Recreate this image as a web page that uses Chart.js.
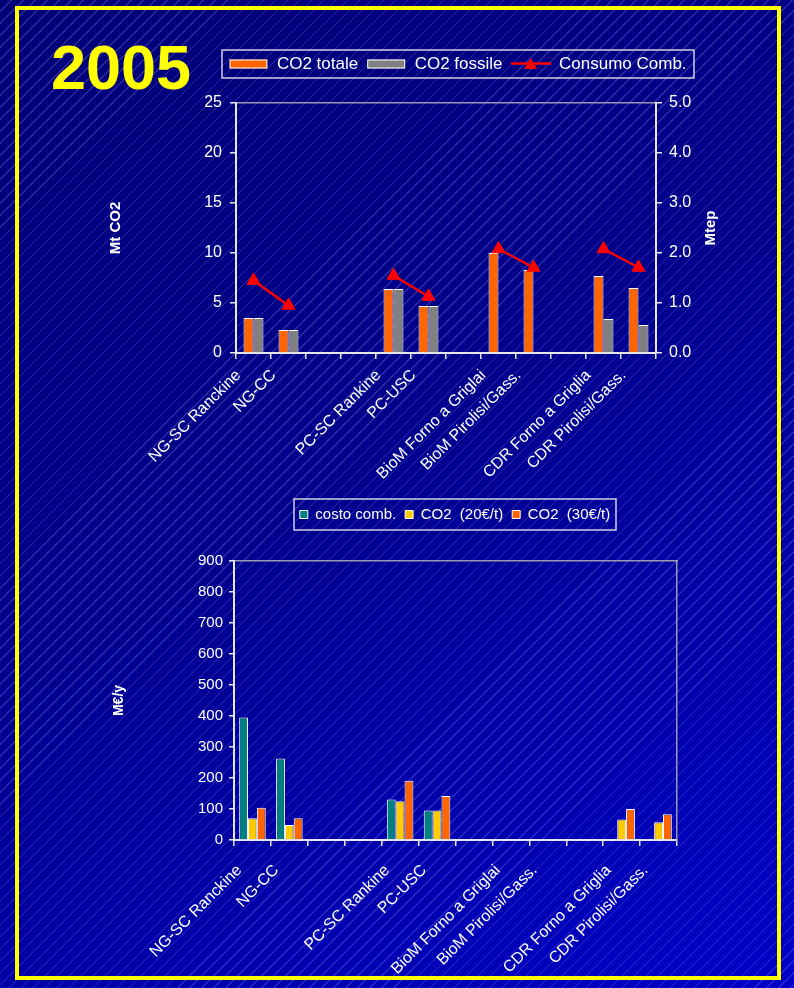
<!DOCTYPE html>
<html>
<head>
<meta charset="utf-8">
<script src="https://cdn.jsdelivr.net/npm/chart.js@4.4.0/dist/chart.umd.min.js"></script>
<style>
  html, body { margin: 0; padding: 0; width: 794px; height: 988px; overflow: hidden; }
  body {
    position: relative;
    background:
      repeating-linear-gradient(135deg, rgba(255,255,255,0) 0px, rgba(255,255,255,0) 7.5px, rgba(190,190,255,0.22) 7.5px, rgba(190,190,255,0.22) 8.5px),
      linear-gradient(150deg, #000078 0%, #00008c 45%, #0000c8 100%);
    font-family: Arial, "Liberation Sans", sans-serif;
  }
  #frame { position: absolute; left: 15px; top: 6px; width: 766px; height: 974px; border: 4px solid #ffff00; box-sizing: border-box; }
  #year { position: absolute; left: 51px; top: 36px; font: bold 63px/63px Arial, "Liberation Sans", sans-serif; color: #ffff00; }
  #top { position: absolute; left: 100px; top: 0; }
  #bottom { position: absolute; left: 95px; top: 480px; }
</style>
</head>
<body>
<div id="frame"></div>
<div id="year">2005</div>
<canvas id="top" width="715" height="490"></canvas>
<canvas id="bottom" width="720" height="508"></canvas>
<script>
// plants (blank slots are the gaps between groups)
const categories = ['NG-SC Ranckine', 'NG-CC', '', '', 'PC-SC Rankine', 'PC-USC', '',
  'BioM Forno a Griglai', 'BioM Pirolisi/Gass.', '', 'CDR Forno a Griglia', 'CDR Pirolisi/Gass.'];

// top chart: Mt CO2 (left) and Mtep (right)
const co2Totale  = [3.5, 2.3, null, null, 6.4, 4.7, null, 10.0, 8.3, null, 7.7, 6.5];
const co2Fossile = [3.5, 2.3, null, null, 6.4, 4.7, null, 0, 0, null, 3.4, 2.8];
const consumoComb = [1.45, 0.95, null, null, 1.55, 1.13, null, 2.08, 1.71, null, 2.08, 1.71];

// bottom chart: M€/y
const costoComb = [395, 263, null, null, 131, 95, null, 0, 0, null, 0, 0];
const co2At20   = [70, 48, null, null, 125, 95, null, 0, 0, null, 66, 57];
const co2At30   = [104, 70, null, null, 191, 142, null, 0, 0, null, 100, 83];

const FONT = 'Arial, "Liberation Sans", sans-serif';
Chart.defaults.font.family = FONT;
Chart.defaults.color = '#ffffff';

const AXIS = '#e6e6ee';
const FRAME = '#9a9ab4';

function legendIcon(kind, color) {
  const c = document.createElement('canvas');
  c.width = 40; c.height = 16;
  const g = c.getContext('2d');
  if (kind === 'bar') {
    g.fillStyle = color;
    g.fillRect(1, 3.5, 38, 9);
    g.strokeStyle = '#ffffff';
    g.lineWidth = 1;
    g.strokeRect(1.5, 4, 37, 8);
  } else {
    g.strokeStyle = color;
    g.lineWidth = 2.5;
    g.beginPath(); g.moveTo(0, 7.5); g.lineTo(40, 7.5); g.stroke();
    g.fillStyle = color;
    g.beginPath(); g.moveTo(20, 2); g.lineTo(26.5, 13); g.lineTo(13.5, 13); g.closePath(); g.fill();
  }
  return c;
}

// box round the legend + rotated right axis title
const decor = {
  id: 'decor',
  afterDraw(chart, args, opts) {
    const ctx = chart.ctx;
    const boxes = chart.legend && chart.legend.legendHitBoxes;
    if (boxes && boxes.length) {
      const l = Math.min(...boxes.map(b => b.left));
      const r = Math.max(...boxes.map(b => b.left + b.width));
      const cy = boxes[0].top + boxes[0].height / 2;
      ctx.save();
      ctx.strokeStyle = '#d0d0e0';
      ctx.lineWidth = 1.5;
      ctx.strokeRect(Math.round(l - opts.padL), Math.round(cy - opts.halfH),
        Math.round(r - l + opts.padL + opts.padR), opts.halfH * 2);
      ctx.restore();
    }
    if (opts.rightTitle) {
      const s = chart.scales.y1;
      ctx.save();
      ctx.translate(s.left + opts.rightTitleX, (s.top + s.bottom) / 2);
      ctx.rotate(-Math.PI / 2);
      ctx.font = 'bold 15px ' + FONT;
      ctx.fillStyle = '#ffffff';
      ctx.textAlign = 'center';
      ctx.textBaseline = 'middle';
      ctx.fillText(opts.rightTitle, 0, 0);
      ctx.restore();
    }
  }
};

const topIcons = [legendIcon('bar', '#ff6600'), legendIcon('bar', '#808080'), legendIcon('line', '#ff0000')];

new Chart(document.getElementById('top'), {
  type: 'bar',
  data: {
    labels: categories,
    datasets: [
      { label: 'CO2 totale', data: co2Totale, backgroundColor: '#ff6600', borderColor: '#ffffff', borderWidth: 1, yAxisID: 'y' },
      { label: 'CO2 fossile', data: co2Fossile, backgroundColor: '#808080', borderColor: '#ffffff', borderWidth: 1, yAxisID: 'y' },
      { type: 'line', label: 'Consumo Comb.', data: consumoComb, yAxisID: 'y1', order: -1,
        borderColor: '#ff0000', borderWidth: 2.5, spanGaps: false,
        pointStyle: 'triangle', pointRadius: 7.5, pointBackgroundColor: '#ff0000', pointBorderColor: '#ff0000', pointBorderWidth: 1 }
    ]
  },
  options: {
    responsive: false,
    animation: false,
    events: [],
    layout: { padding: { top: 47.5, left: 0, right: 0, bottom: 0 } },
    datasets: { bar: { barPercentage: 1, categoryPercentage: 0.57 } },
    plugins: {
      tooltip: { enabled: false },
      legend: {
        position: 'top',
        labels: {
          color: '#ffffff', font: { size: 17 }, padding: 8,
          usePointStyle: true, pointStyleWidth: 40,
          generateLabels(chart) {
            const items = Chart.defaults.plugins.legend.labels.generateLabels(chart);
            items.sort((a, b) => a.datasetIndex - b.datasetIndex);
            items.forEach(it => { it.pointStyle = topIcons[it.datasetIndex]; });
            return items;
          }
        }
      },
      decor: { padL: 6, padR: 8, halfH: 14, rightTitle: 'Mtep', rightTitleX: 55 }
    },
    scales: {
      x: {
        offset: true,
        grid: { display: true, offset: true, drawOnChartArea: false, tickLength: 6, color: AXIS, lineWidth: 1.5 },
        border: { color: AXIS, width: 2 },
        ticks: { autoSkip: false, minRotation: 45, maxRotation: 45, font: { size: 16 }, padding: 7, labelOffset: -15 },
        afterFit: s => { s.height = 137; }
      },
      xt: {
        type: 'linear', position: 'top',
        ticks: { display: false }, grid: { display: false },
        border: { display: true, color: FRAME, width: 1.5 },
        afterFit: s => { s.height = 20.5; }
      },
      y: {
        position: 'left', min: 0, max: 25,
        ticks: { stepSize: 5, font: { size: 16 }, padding: 8 },
        grid: { drawOnChartArea: false, tickLength: 6, color: AXIS, lineWidth: 1.5 },
        border: { color: AXIS, width: 2 },
        title: { display: true, text: 'Mt CO2', color: '#ffffff', font: { size: 15, weight: 'bold' }, padding: { top: 7, bottom: 0 } },
        afterFit: s => { s.width = 136; }
      },
      y1: {
        position: 'right', min: 0, max: 5,
        ticks: { stepSize: 1, font: { size: 16 }, padding: 7, callback: v => v.toFixed(1) },
        grid: { drawOnChartArea: false, tickLength: 6, color: AXIS, lineWidth: 1.5 },
        border: { color: AXIS, width: 2 },
        afterFit: s => { s.width = 159; }
      }
    }
  },
  plugins: [decor]
});

new Chart(document.getElementById('bottom'), {
  type: 'bar',
  data: {
    labels: categories,
    datasets: [
      { label: 'costo comb.', data: costoComb, backgroundColor: '#008080', borderColor: '#ffffff', borderWidth: 1 },
      { label: 'CO2  (20€/t)', data: co2At20, backgroundColor: '#ffcc00', borderColor: '#ffffff', borderWidth: 1 },
      { label: 'CO2  (30€/t)', data: co2At30, backgroundColor: '#ff6600', borderColor: '#ffffff', borderWidth: 1 }
    ]
  },
  options: {
    responsive: false,
    animation: false,
    events: [],
    layout: { padding: { top: 18, left: 0, right: 0, bottom: 0 } },
    datasets: { bar: { barPercentage: 1, categoryPercentage: 0.72 } },
    plugins: {
      tooltip: { enabled: false },
      legend: {
        position: 'top',
        labels: { color: '#ffffff', font: { size: 15 }, padding: 9, boxWidth: 8, boxHeight: 8 }
      },
      decor: { padL: 6, padR: 6, halfH: 15.5 }
    },
    scales: {
      x: {
        offset: true,
        grid: { display: true, offset: true, drawOnChartArea: false, tickLength: 6, color: AXIS, lineWidth: 1.5 },
        border: { color: AXIS, width: 2 },
        ticks: { autoSkip: false, minRotation: 45, maxRotation: 45, font: { size: 16 }, padding: 15, labelOffset: -13 },
        afterFit: s => { s.height = 148; }
      },
      xt: {
        type: 'linear', position: 'top',
        ticks: { display: false }, grid: { display: false },
        border: { display: true, color: FRAME, width: 1.5 },
        afterFit: s => { s.height = 29; }
      },
      y: {
        position: 'left', min: 0, max: 900,
        ticks: { stepSize: 100, font: { size: 15 }, padding: 6 },
        grid: { drawOnChartArea: false, tickLength: 5, color: AXIS, lineWidth: 1.5 },
        border: { color: AXIS, width: 2 },
        title: { display: true, text: 'M€/y', color: '#ffffff', font: { size: 14, weight: 'bold' }, padding: { top: 16, bottom: 0 } },
        afterFit: s => { s.width = 139; }
      },
      y2: {
        type: 'linear', position: 'right',
        ticks: { display: false }, grid: { display: false },
        border: { display: true, color: FRAME, width: 1.5 },
        afterFit: s => { s.width = 138; }
      }
    }
  },
  plugins: [decor]
});
</script>
</body>
</html>
